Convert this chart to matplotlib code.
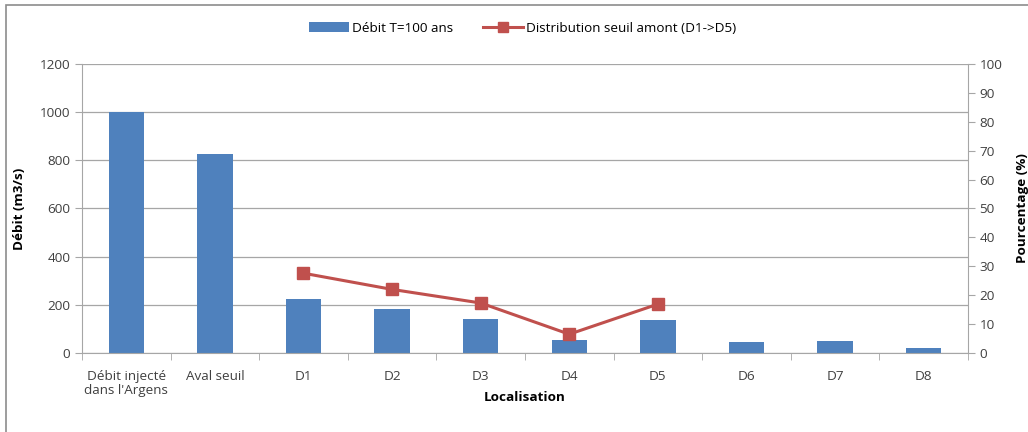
import numpy as np
import matplotlib
matplotlib.use('Agg')
import matplotlib.pyplot as plt
from matplotlib.lines import Line2D
from matplotlib.patches import Patch, Rectangle

# Débit par localisation et répartition au seuil amont
categories = ["Débit injecté\ndans l'Argens", "Aval seuil", "D1", "D2", "D3",
              "D4", "D5", "D6", "D7", "D8"]
debit = [1000, 825, 223, 181, 142, 54, 138, 47, 50, 20]
distrib_labels = ["D1", "D2", "D3", "D4", "D5"]
distrib_pct = [27.6, 22.0, 17.3, 6.5, 16.9]

bar_color = '#4f81bd'
line_color = '#c0504d'
grid_color = '#a6a6a6'
text_color = '#404040'

plt.rcParams['font.family'] = ['Open Sans', 'DejaVu Sans']
plt.rcParams['font.size'] = 9.7

fig = plt.figure(figsize=(10.28, 4.32), dpi=100)
ax = fig.add_axes([0.0798, 0.1829, 0.8617, 0.669])
ax2 = ax.twinx()

x = np.arange(len(categories))
ax.bar(x, debit, width=0.4, color=bar_color, zorder=2)
ax.set_xlim(-0.5, len(categories) - 0.5)
ax.set_ylim(0, 1200)
ax.set_yticks(range(0, 1201, 200))
ax.yaxis.grid(True, color=grid_color, linewidth=0.9, zorder=0)
ax.set_axisbelow(True)

ax.set_xticks(x)
ax.set_xticklabels(categories, color=text_color, linespacing=1.1)
ax.set_xticks(np.arange(-0.5, len(categories), 1.0), minor=True)
ax.tick_params(axis='x', which='major', length=0, pad=12)
ax.tick_params(axis='x', which='minor', length=5, color=grid_color)
ax.tick_params(axis='y', length=5, color=grid_color, labelcolor=text_color)
for side in ['top', 'right']:
    ax.spines[side].set_visible(False)
for side in ['left', 'bottom']:
    ax.spines[side].set_color(grid_color)

ax.set_ylabel('Débit (m3/s)', fontweight='bold', color='black', labelpad=10)
ax.set_xlabel('Localisation', fontweight='bold', color='black', labelpad=-4)

# Courbe en pourcentage sur l'axe secondaire
xd = [categories.index(c) for c in distrib_labels]
ax2.plot(xd, distrib_pct, color=line_color, linewidth=2.2, marker='s',
         markersize=8, zorder=3)
ax2.set_ylim(0, 100)
ax2.set_yticks(range(0, 101, 10))
ax2.tick_params(axis='y', length=5, color=grid_color, labelcolor=text_color)
for side in ['top', 'left', 'bottom']:
    ax2.spines[side].set_visible(False)
ax2.spines['right'].set_color(grid_color)
ax2.set_ylabel('Pourcentage (%)', fontweight='bold', labelpad=10)

handles = [Patch(facecolor=bar_color),
           Line2D([0], [0], color=line_color, linewidth=2.2, marker='s', markersize=7)]
fig.legend(handles, ['Débit T=100 ans', 'Distribution seuil amont (D1->D5)'],
           loc='center', bbox_to_anchor=(0.508, 0.935), ncol=2, frameon=False,
           handlelength=3, columnspacing=2.2, handletextpad=0.2)

# Cadre du graphique
fig.patches.append(Rectangle((0.006, -0.05), 1.2, 1.038, transform=fig.transFigure,
                             fill=False, edgecolor='#8c8c8c', linewidth=1.2))

fig.savefig('out.png', dpi=100)
